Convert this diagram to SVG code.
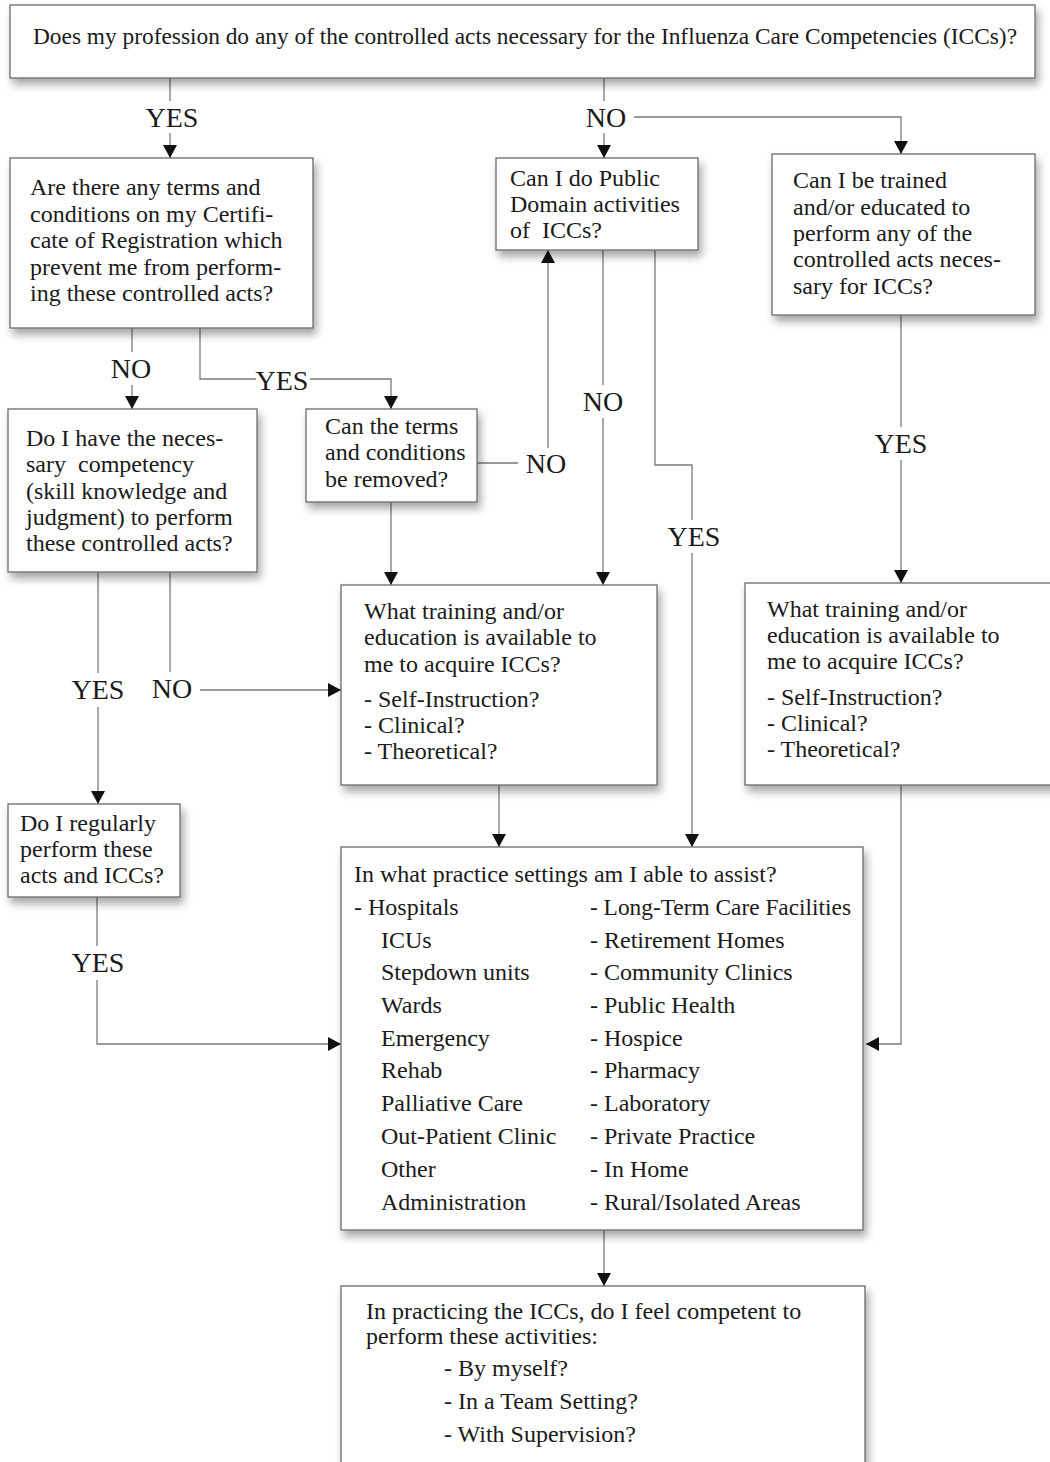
<svg xmlns="http://www.w3.org/2000/svg" width="1050" height="1462" viewBox="0 0 1050 1462">
<defs>
<filter id="sh" x="-10%" y="-10%" width="130%" height="140%">
<feDropShadow dx="3" dy="6" stdDeviation="4" flood-color="#000" flood-opacity="0.35"/>
</filter>
<marker id="ah" markerUnits="userSpaceOnUse" markerWidth="13" markerHeight="14" refX="13" refY="7" orient="auto" viewBox="0 0 13 14">
<path d="M0,0 L13,7 L0,14 z" fill="#111"/>
</marker>
<style>
.box{fill:#fff;stroke:#6a6a6a;stroke-width:1.3;filter:url(#sh)}
.t{font-family:"Liberation Serif","DejaVu Serif",serif;font-size:24px;fill:#1a1a1a;white-space:pre}
.lbl{font-family:"Liberation Serif","DejaVu Serif",serif;font-size:28px;fill:#1a1a1a;text-anchor:middle}
.c{fill:none;stroke:#7a7a7a;stroke-width:1.3}
.a{marker-end:url(#ah)}
</style>
</defs>
<rect width="1050" height="1462" fill="#fff"/>

<g id="connectors">
<path class="c" d="M170,78 V101"/>
<path class="c a" d="M170,133 V158"/>
<path class="c" d="M604,78 V101"/>
<path class="c a" d="M604,133 V158"/>
<path class="c a" d="M634,117 H901 V154"/>
<path class="c" d="M132,328 V352"/>
<path class="c a" d="M132,385 V409"/>
<path class="c" d="M200,328 V379 H256"/>
<path class="c a" d="M310,379 H391 V409"/>
<path class="c" d="M477,463 H518"/>
<path class="c a" d="M548,448 V250"/>
<path class="c" d="M603,250 V385"/>
<path class="c a" d="M603,418 V585"/>
<path class="c" d="M655,250 V465 H692 V520"/>
<path class="c a" d="M692,553 V847"/>
<path class="c a" d="M391,502 V585"/>
<path class="c" d="M901,315 V427"/>
<path class="c a" d="M901,460 V583"/>
<path class="c" d="M98,572 V673"/>
<path class="c a" d="M98,707 V804"/>
<path class="c" d="M170,572 V672"/>
<path class="c a" d="M200,690 H341"/>
<path class="c a" d="M499,785 V847"/>
<path class="c a" d="M901,785 V1044 H866"/>
<path class="c" d="M97,897 V946"/>
<path class="c a" d="M97,980 V1044 H341"/>
<path class="c a" d="M604,1230 V1286"/>
<text class="lbl" x="172" y="127">YES</text>
<text class="lbl" x="606" y="127">NO</text>
<text class="lbl" x="131" y="378">NO</text>
<text class="lbl" x="282" y="390">YES</text>
<text class="lbl" x="603" y="411">NO</text>
<text class="lbl" x="546" y="473">NO</text>
<text class="lbl" x="901" y="453">YES</text>
<text class="lbl" x="694" y="546">YES</text>
<text class="lbl" x="98" y="699">YES</text>
<text class="lbl" x="172" y="698">NO</text>
<text class="lbl" x="98" y="972">YES</text>
</g>

<g id="n-top">
<rect class="box" x="10" y="5" width="1025" height="73"/>
<text class="t" x="33" y="44" textLength="984" lengthAdjust="spacingAndGlyphs">Does my profession do any of the controlled acts necessary for the Influenza Care Competencies (ICCs)?</text>
</g>

<g id="n-terms">
<rect class="box" x="10" y="158" width="303" height="170"/>
<text class="t" x="30" y="195">Are there any terms and</text>
<text class="t" x="30" y="222">conditions on my Certifi-</text>
<text class="t" x="30" y="248">cate of Registration which</text>
<text class="t" x="30" y="275">prevent me from perform-</text>
<text class="t" x="30" y="301">ing these controlled acts?</text>
</g>

<g id="n-public">
<rect class="box" x="496" y="158" width="202" height="92"/>
<text class="t" x="510" y="186">Can I do Public</text>
<text class="t" x="510" y="212">Domain activities</text>
<text class="t" x="510" y="238">of  ICCs?</text>
</g>

<g id="n-trained">
<rect class="box" x="772" y="154" width="263" height="161"/>
<text class="t" x="793" y="188">Can I be trained</text>
<text class="t" x="793" y="215">and/or educated to</text>
<text class="t" x="793" y="241">perform any of the</text>
<text class="t" x="793" y="267">controlled acts neces-</text>
<text class="t" x="793" y="294">sary for ICCs?</text>
</g>

<g id="n-competency">
<rect class="box" x="8" y="409" width="249" height="163"/>
<text class="t" x="26" y="446">Do I have the neces-</text>
<text class="t" x="26" y="472">sary  competency</text>
<text class="t" x="26" y="499">(skill knowledge and</text>
<text class="t" x="26" y="525">judgment) to perform</text>
<text class="t" x="26" y="551">these controlled acts?</text>
</g>

<g id="n-remove">
<rect class="box" x="306" y="409" width="171" height="93"/>
<text class="t" x="325" y="434">Can the terms</text>
<text class="t" x="325" y="460">and conditions</text>
<text class="t" x="325" y="487">be removed?</text>
</g>

<g id="n-training-mid">
<rect class="box" x="341" y="585" width="316" height="200"/>
<text class="t" x="364" y="619">What training and/or</text>
<text class="t" x="364" y="645">education is available to</text>
<text class="t" x="364" y="672">me to acquire ICCs?</text>
<text class="t" x="364" y="707">- Self-Instruction?</text>
<text class="t" x="364" y="733">- Clinical?</text>
<text class="t" x="364" y="759">- Theoretical?</text>
</g>

<g id="n-training-right">
<rect class="box" x="745" y="583" width="330" height="202"/>
<text class="t" x="767" y="617">What training and/or</text>
<text class="t" x="767" y="643">education is available to</text>
<text class="t" x="767" y="669">me to acquire ICCs?</text>
<text class="t" x="767" y="705">- Self-Instruction?</text>
<text class="t" x="767" y="731">- Clinical?</text>
<text class="t" x="767" y="757">- Theoretical?</text>
</g>

<g id="n-regularly">
<rect class="box" x="8" y="804" width="172" height="93"/>
<text class="t" x="20" y="831">Do I regularly</text>
<text class="t" x="20" y="857">perform these</text>
<text class="t" x="20" y="883">acts and ICCs?</text>
</g>

<g id="n-settings">
<rect class="box" x="341" y="847" width="522" height="383"/>
<text class="t" x="354" y="882">In what practice settings am I able to assist?</text>
<text class="t" x="354" y="915">- Hospitals</text>
<text class="t" x="381" y="948">ICUs</text>
<text class="t" x="381" y="980">Stepdown units</text>
<text class="t" x="381" y="1013">Wards</text>
<text class="t" x="381" y="1046">Emergency</text>
<text class="t" x="381" y="1078">Rehab</text>
<text class="t" x="381" y="1111">Palliative Care</text>
<text class="t" x="381" y="1144">Out-Patient Clinic</text>
<text class="t" x="381" y="1177">Other</text>
<text class="t" x="381" y="1210">Administration</text>
<text class="t" x="590" y="915" textLength="261" lengthAdjust="spacingAndGlyphs">- Long-Term Care Facilities</text>
<text class="t" x="590" y="948">- Retirement Homes</text>
<text class="t" x="590" y="980">- Community Clinics</text>
<text class="t" x="590" y="1013">- Public Health</text>
<text class="t" x="590" y="1046">- Hospice</text>
<text class="t" x="590" y="1078">- Pharmacy</text>
<text class="t" x="590" y="1111">- Laboratory</text>
<text class="t" x="590" y="1144">- Private Practice</text>
<text class="t" x="590" y="1177">- In Home</text>
<text class="t" x="590" y="1210">- Rural/Isolated Areas</text>
</g>

<g id="n-competent">
<rect class="box" x="341" y="1286" width="524" height="220"/>
<text class="t" x="366" y="1319">In practicing the ICCs, do I feel competent to</text>
<text class="t" x="366" y="1344">perform these activities:</text>
<text class="t" x="444" y="1376">- By myself?</text>
<text class="t" x="444" y="1409">- In a Team Setting?</text>
<text class="t" x="444" y="1442">- With Supervision?</text>
</g>
</svg>
